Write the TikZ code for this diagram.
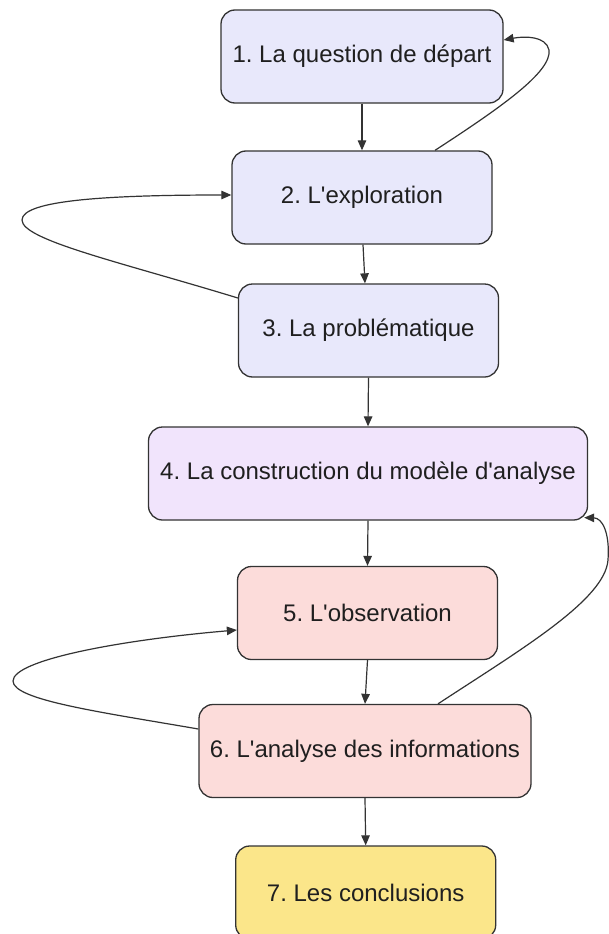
\documentclass[tikz,border=0pt]{standalone}
\usepackage{fontspec}
\setmainfont{Liberation Sans}[Ligatures=TeXOff]
\usetikzlibrary{arrows.meta}
\frenchspacing
\definecolor{lav}{HTML}{E8E8FB}
\definecolor{purp}{HTML}{F1E4FC}
\definecolor{pinkf}{HTML}{FCDCDA}
\definecolor{yel}{HTML}{FBE68A}
\definecolor{edge}{HTML}{333333}
\tikzset{
  box/.style={draw=edge, line width=1.3pt, rounded corners=14pt, minimum height=93pt,
    inner sep=0pt, align=center, text=black!88, font=\fontsize{24}{28}\selectfont},
  arr/.style={draw=edge, line width=1.2pt, -{Triangle[length=10pt,width=8.5pt]}}
}
\begin{document}
\begin{tikzpicture}[x=1pt,y=-1pt]
\clip (0,0) rectangle (609,934);
\fill[white] (0,0) rectangle (609,934);
\node[box, fill=lav, minimum width=282pt] (n1) at (362,56.5) {1. La question de départ};
\node[box, fill=lav, minimum width=260pt] (n2) at (362,197.5) {2. L'exploration};
\node[box, fill=lav, minimum width=260pt] (n3) at (368.5,330.5) {3. La problématique};
\node[box, fill=purp, minimum width=439pt] (n4) at (368,473.5) {4. La construction du modèle d'analyse};
\node[box, fill=pinkf, minimum width=260pt] (n5) at (367.5,613) {5. L'observation};
\node[box, fill=pinkf, minimum width=332pt] (n6) at (365,751) {6. L'analyse des informations};
\node[box, fill=yel, minimum width=260pt] (n7) at (365.7,892.5) {7. Les conclusions};

\draw[arr] (n1.south) -- (n2.north);
\draw[arr] ([xshift=1pt]n2.south) -- ([xshift=-3.5pt]n3.north);
\draw[arr] (n3.south) -- (n4.north);
\draw[arr] (n4.south) -- (n5.north);
\draw[arr] (n5.south) -- (n6.north);
\draw[arr] (n6.south) -- (n7.north);

% loops
\draw[arr] ([xshift=73pt]n2.north) .. controls (500,108) and (552,72) .. (549,50)
  .. controls (546,36) and (525,36) .. ([yshift=16.5pt]n1.east);
\draw[arr] ([yshift=32.5pt]n3.west) .. controls (120,262) and (22,240) .. (22,220)
  .. controls (22,200) and (110,195) .. ([yshift=2.5pt]n2.west);
\draw[arr] ([yshift=22pt]n6.west) .. controls (100,712) and (13,700) .. (13,681)
  .. controls (13,660) and (120,640) .. ([yshift=-17pt]n5.west);
\draw[arr] ([xshift=73pt]n6.north) .. controls (520,650) and (605,600) .. (608,560)
  .. controls (610,532) and (602,518) .. ([xshift=-4pt,yshift=3pt]n4.south east);
\end{tikzpicture}
\end{document}
